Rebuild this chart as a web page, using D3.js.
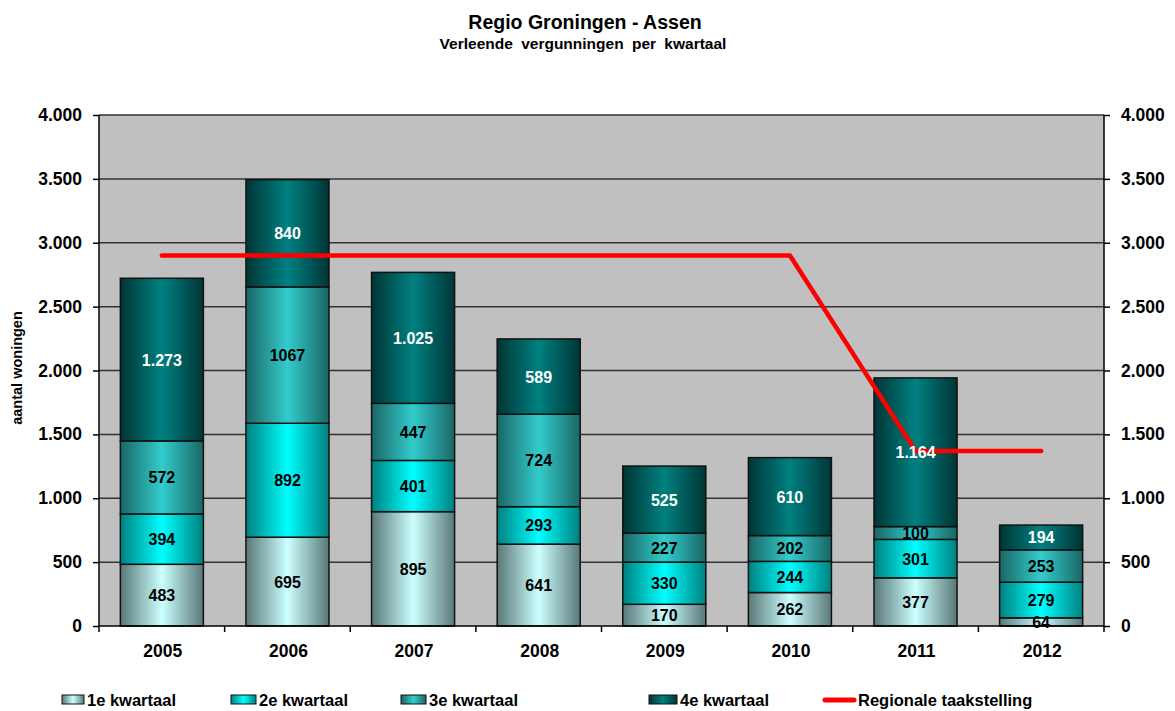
<!DOCTYPE html>
<html><head><meta charset="utf-8">
<script src="https://cdn.jsdelivr.net/npm/d3@7"></script>
<style>
body{margin:0;background:#fff;}
svg{display:block;font-family:"Liberation Sans",Arial,sans-serif;font-weight:bold;}
</style></head>
<body><svg id="c" width="1175" height="711"></svg>
<script>
const years = ["2005","2006","2007","2008","2009","2010","2011","2012"];
const seriesNames = ["1e kwartaal","2e kwartaal","3e kwartaal","4e kwartaal"];
const q1 = [483,695,895,641,170,262,377,64];
const q2 = [394,892,401,293,330,244,301,279];
const q3 = [572,1067,447,724,227,202,100,253];
const q4 = [1273,840,1025,589,525,610,1164,194];
const q1Labels = ["483","695","895","641","170","262","377","64"];
const q2Labels = ["394","892","401","293","330","244","301","279"];
const q3Labels = ["572","1067","447","724","227","202","100","253"];
const q4Labels = ["1.273","840","1.025","589","525","610","1.164","194"];
const taakstelling = [2900,2900,2900,2900,2900,2900,1370,1370];
const lineName = "Regionale taakstelling";
const yTicks = [0,500,1000,1500,2000,2500,3000,3500,4000];
const yTickLabels = ["0","500","1.000","1.500","2.000","2.500","3.000","3.500","4.000"];

const svg = d3.select("#c");
const L=99, R=1104, T=115, B=626;
const x = d3.scaleBand().domain(years).range([L,R]).paddingInner(0.339).paddingOuter(0.17);
const xc = d3.scalePoint().domain(years).range([L,R]).padding(0.5);
const y = d3.scaleLinear().domain([0,4000]).range([B,T]);

// gradients
const grads = [
  {edge:"#5a7878", mid:"#ccffff"},
  {edge:"#008080", mid:"#00ffff"},
  {edge:"#1a6666", mid:"#33cccc"},
  {edge:"#003535", mid:"#008080"}
];
const defs = svg.append("defs");
grads.forEach((g,i)=>{
  const lg = defs.append("linearGradient").attr("id","g"+i).attr("x1","0").attr("x2","1").attr("y1","0").attr("y2","0");
  lg.append("stop").attr("offset","0%").attr("stop-color",g.edge);
  lg.append("stop").attr("offset","50%").attr("stop-color",g.mid);
  lg.append("stop").attr("offset","100%").attr("stop-color",g.edge);
});

// title
svg.append("text").attr("x",585).attr("y",29).attr("text-anchor","middle").attr("font-size",19.5).text("Regio Groningen - Assen");
svg.append("text").attr("x",583).attr("y",49).attr("text-anchor","middle").attr("font-size",15.5).attr("word-spacing","4px").text("Verleende vergunningen per kwartaal");

// plot bg
svg.append("rect").attr("x",L).attr("y",T).attr("width",R-L).attr("height",B-T).attr("fill","#c0c0c0");

// grid
svg.append("g").selectAll("line").data(yTicks.filter(d=>d>0)).join("line")
  .attr("x1",L).attr("x2",R).attr("y1",d=>y(d)).attr("y2",d=>y(d))
  .attr("stroke","#333").attr("stroke-width",1.5);

// axes
const yAxisL = d3.axisLeft(y).tickValues(yTicks).tickFormat((d,i)=>yTickLabels[i]).tickSize(6).tickPadding(11);
const gl = svg.append("g").attr("transform",`translate(${L},0)`).call(yAxisL);
const yAxisR = d3.axisRight(y).tickValues(yTicks).tickFormat((d,i)=>yTickLabels[i]).tickSize(6).tickPadding(11);
const gr = svg.append("g").attr("transform",`translate(${R},0)`).call(yAxisR);
[gl,gr].forEach(g=>{
  g.select(".domain").attr("stroke","#000").attr("stroke-width",1.5).attr("d",`M0,${T}V${B}`);
  g.selectAll(".tick line").attr("stroke","#000").attr("stroke-width",1.5);
  g.selectAll(".tick text").attr("font-size",17.5).attr("font-family","Liberation Sans, Arial").attr("font-weight","bold").attr("fill","#000");
});

// y title
svg.append("text").attr("transform","translate(22,368) rotate(-90)").attr("text-anchor","middle").attr("font-size",14.5).text("aantal woningen");

// stacked bars
const data = years.map((yr,i)=>({year:yr,q:[q1[i],q2[i],q3[i],q4[i]],lab:[q1Labels[i],q2Labels[i],q3Labels[i],q4Labels[i]]}));
const segs = [];
data.forEach(d=>{
  let acc=0;
  d.q.forEach((v,k)=>{segs.push({year:d.year,k,y0:acc,y1:acc+v,label:d.lab[k]}); acc+=v;});
});
svg.append("g").selectAll("rect").data(segs).join("rect")
  .attr("x",d=>x(d.year)).attr("width",x.bandwidth())
  .attr("y",d=>y(d.y1)).attr("height",d=>y(d.y0)-y(d.y1))
  .attr("fill",d=>`url(#g${d.k})`).attr("stroke","#111").attr("stroke-width",1.5);

// x axis
svg.append("line").attr("x1",L).attr("x2",R).attr("y1",B).attr("y2",B).attr("stroke","#000").attr("stroke-width",1.5);
const step = (R-L)/years.length;
svg.append("g").selectAll("line").data(d3.range(years.length+1)).join("line")
  .attr("x1",i=>L+i*step).attr("x2",i=>L+i*step).attr("y1",B).attr("y2",B+6).attr("stroke","#000").attr("stroke-width",1.5);
svg.append("g").selectAll("text").data(years).join("text")
  .attr("x",d=>xc(d)+1).attr("y",657).attr("text-anchor","middle").attr("font-size",17.5).text(d=>d);

// line
const line = d3.line().x((d,i)=>xc(years[i])).y(d=>y(d));
svg.append("path").datum(taakstelling).attr("d",line).attr("fill","none").attr("stroke","#ff0000").attr("stroke-width",4.5).attr("stroke-linecap","round").attr("stroke-linejoin","round");

// labels
svg.append("g").selectAll("text").data(segs).join("text")
  .attr("x",d=>x(d.year)+x.bandwidth()/2).attr("y",d=>y((d.y0+d.y1)/2)+6)
  .attr("text-anchor","middle").attr("font-size",16)
  .attr("fill",d=>d.k===3?"#fff":"#000").text(d=>d.label);

// legend
const leg = [
  {type:"box",k:0,sx:62,tx:87,name:seriesNames[0]},
  {type:"box",k:1,sx:231,tx:259,name:seriesNames[1]},
  {type:"box",k:2,sx:401,tx:429,name:seriesNames[2]},
  {type:"box",k:3,sx:649,tx:680,name:seriesNames[3]},
  {type:"line",sx:825,tx:858,name:lineName}
];
const lg = svg.append("g");
leg.forEach(l=>{
  if(l.type==="box"){
    lg.append("rect").attr("x",l.sx).attr("y",695).attr("width",l.tx-l.sx-3).attr("height",9)
      .attr("fill",`url(#g${l.k})`).attr("stroke","#111").attr("stroke-width",1);
  } else {
    lg.append("line").attr("x1",l.sx).attr("x2",l.tx-4).attr("y1",700).attr("y2",700).attr("stroke","#ff0000").attr("stroke-width",5).attr("stroke-linecap","round");
  }
  lg.append("text").attr("x",l.tx).attr("y",706).attr("font-size",16.5).text(l.name);
});
</script></body></html>
